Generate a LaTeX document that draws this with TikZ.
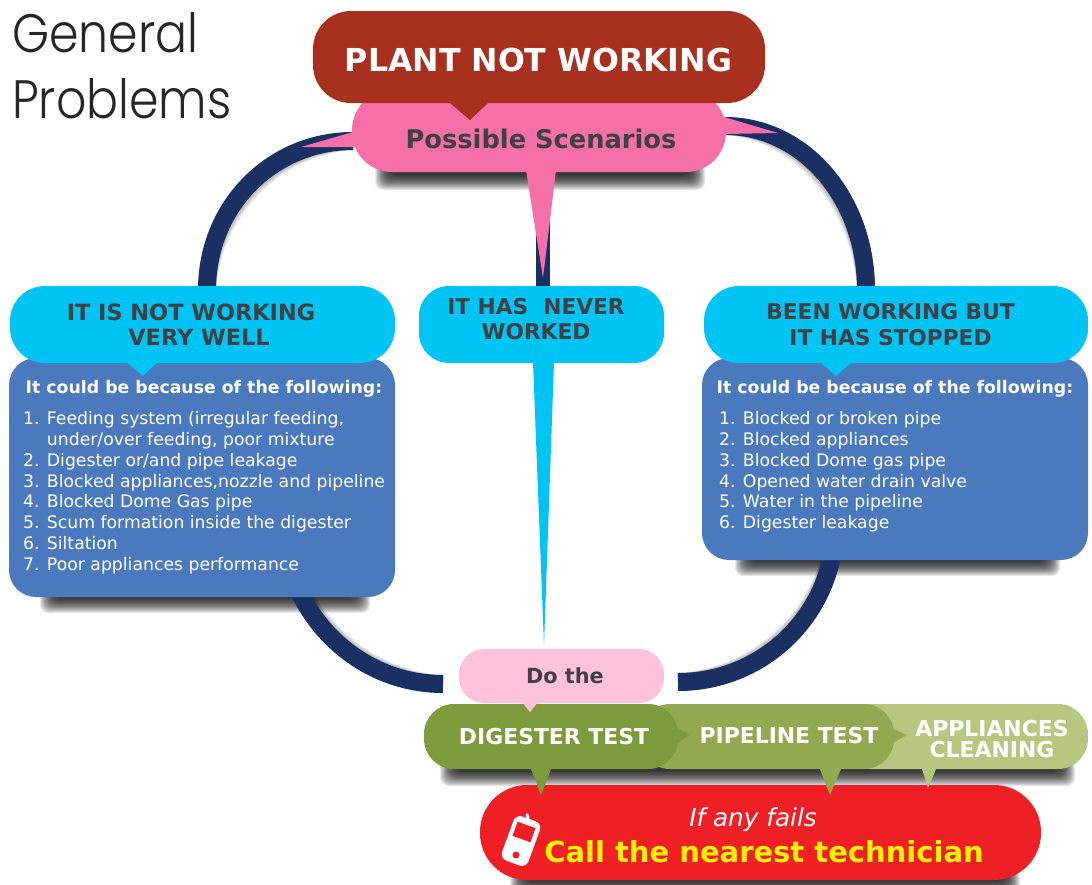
\documentclass[tikz,border=0pt]{standalone}
\usepackage{fontspec}
\setmainfont{DejaVu Sans}
\newfontfamily\titlefont{Poppins Light}
\definecolor{plantred}{HTML}{A8301F}
\definecolor{scenpink}{HTML}{F56FA8}
\definecolor{dopink}{HTML}{FFC1DC}
\definecolor{headcyan}{HTML}{00C4F4}
\definecolor{bodyblue}{HTML}{4B79BD}
\definecolor{ringnavy}{HTML}{1A3063}
\definecolor{textgrey}{HTML}{404045}
\definecolor{testdark}{HTML}{7D9A3C}
\definecolor{testmid}{HTML}{92A950}
\definecolor{testlight}{HTML}{B8C780}
\definecolor{callred}{HTML}{EE2025}
\definecolor{callyellow}{HTML}{FFF200}
\tikzset{
  bubble/.style={inner sep=0pt, outer sep=0pt, align=center, rounded corners=#1},
  head/.style={bubble=35pt, fill=headcyan, minimum height=77pt},
  headtext/.style={inner sep=0pt, align=center, text=textgrey, font=\fontsize{21.7}{25.5}\selectfont\bfseries},
  cause/.style={bubble=27pt, fill=bodyblue, minimum width=386pt},
  causetitle/.style={inner sep=0pt, text=white, font=\fontsize{17.3}{20}\selectfont\bfseries},
  causelist/.style={inner sep=0pt, anchor=north west, align=left, text=white, font=\fontsize{17.25}{20.75}\selectfont},
  testbox/.style={bubble=30pt, minimum height=65pt},
  testtext/.style={inner sep=0pt, align=center, text=white, font=\fontsize{21.9}{21}\selectfont\bfseries},
  titletext/.style={anchor=base west, inner sep=0pt, text=black!85, font=\fontsize{47.4}{60}\selectfont\titlefont},
  ring/.style={draw=ringnavy, line width=18pt},
}
% soft shade under a box: left, top, right, bottom
\newcommand{\softshade}[4]{
  \foreach \d in {0,...,15}
    \fill[black, opacity=.09, rounded corners=8pt] ({#1+\d},{#2}) rectangle ({#3-\d},{#4-\d});
}
% soft shade beside a ring: x shift, y shift, path
\newcommand{\softring}[3]{
  \foreach \d in {.2,.4,...,1.1}
    \draw[black, opacity=.06, line width=18pt, shift={({#1*\d},{#2*\d})}] #3;
}
\begin{document}
\begin{tikzpicture}[x=1pt, y=-1pt]
\useasboundingbox (0,0) rectangle (1092,884);

\node[titletext] (title1) at (12,52){\scalebox{1}[1.14]{General}};
\node[titletext] (title2) at (12,118){\scalebox{1}[1.14]{Problems}};

\node[bubble=40pt, minimum width=374pt, minimum height=82pt] (scen) at (539,131){};
\node[head, fill=none, minimum width=385pt] (notwell) at (202.5,324.5){};
\node[head, fill=none, minimum width=245pt] (never) at (541.5,324.5){};
\node[head, fill=none, minimum width=384pt] (stopped) at (896,324.5){};
\node[cause, fill=none, minimum height=239pt] (causeL) at (202,477.5){};
\node[cause, fill=none, minimum height=202pt] (causeR) at (895,459){};
\node[bubble=25pt, minimum width=205pt, minimum height=54pt] (dothe) at (561.5,676){};

% shades
\softshade{375}{160}{705}{190}
\softshade{40}{585}{370}{613}
\softshade{735}{550}{1060}{576}
\softshade{440}{760}{1075}{786}
\softshade{510}{870}{1020}{896}
\softring{5}{5}{([shift={(1,10)}]scen.west) .. controls (272,141) and (207,206) .. ([shift={(4.5,4)}]notwell.north)}
\softring{-5}{5}{([shift={(186,-5)}]scen.center) .. controls (803,126) and (866,198) .. ([shift={(-30,4)}]stopped.north)}
\softring{3}{-5}{([shift={(82,45)}]causeL.center) .. controls (284,612) and (356,684) .. ([shift={(-16,8)}]dothe.west)}
\softring{-3}{-5}{([shift={(-60,66)}]causeR.center) .. controls (835,612) and (765,682) .. ([shift={(14,6)}]dothe.east)}

% rings
\draw[ring] ([shift={(1,10)}]scen.west) .. controls (272,141) and (207,206) .. ([shift={(4.5,4)}]notwell.north);
\draw[ring] ([shift={(186,-5)}]scen.center) .. controls (803,126) and (866,198) .. ([shift={(-30,4)}]stopped.north);
\draw[ring] ([shift={(82,45)}]causeL.center) .. controls (284,612) and (356,684) .. ([shift={(-16,8)}]dothe.west);
\draw[ring] ([shift={(-60,66)}]causeR.center) .. controls (835,612) and (765,682) .. ([shift={(14,6)}]dothe.east);
\draw[ringnavy, line width=14pt] ([shift={(4,0)}]scen.south) -- ([shift={(1.5,4)}]never.north);

% possible scenarios
\fill[scenpink] (353,132) -- (301,147) -- (356,147) -- cycle;
\fill[scenpink] (724,117) -- (778,133) -- (725,134) -- cycle;
\fill[scenpink] (526,170) -- (543,278) -- (556,170) -- cycle;
\node[bubble=40pt, fill=scenpink, minimum width=374pt, minimum height=82pt] (scen) at (539,131){};
\node[inner sep=0pt, text=textgrey, font=\fontsize{25.7}{30}\selectfont\bfseries] (scentext) at (541,139){Possible Scenarios};

% plant not working
\node[bubble=38pt, fill=plantred, minimum width=452pt, minimum height=92pt] (plant) at (539,57){};
\fill[plantred] (450,103) -- (470,120) -- (488,103) -- cycle;
\node[inner sep=0pt, text=white, font=\fontsize{31.6}{36}\selectfont\bfseries] (planttext) at (538.5,60){PLANT NOT WORKING};

% left column
\node[cause, minimum height=239pt] (causeL) at (202,477.5){};
\fill[headcyan] (126,362) -- (143,376) -- (158,362) -- cycle;
\node[head, minimum width=385pt] (notwell) at (202.5,324.5){};
\node[headtext, font=\fontsize{22.4}{25.5}\selectfont\bfseries] (notwelltext) at (191,324.5){IT IS NOT WORKING\\\hspace*{16pt}VERY WELL};
\node[causetitle] (causeLtitle) at (204,389){It could be because of the following:};
\node[causelist] (causeLlist) at (23,411.5){%
1. Feeding system (irregular feeding,\\
\phantom{1. }under/over feeding, poor mixture\\
2. Digester or/and pipe leakage\\
3. Blocked appliances,nozzle and pipeline\\
4. Blocked Dome Gas pipe\\
5. Scum formation inside the digester\\
6. Siltation\\
7. Poor appliances performance};

% middle column
\fill[headcyan] (533,362) -- (544,645) -- (554,362) -- cycle;
\node[head, bubble=30pt, minimum width=245pt] (never) at (541.5,324.5){};
\node[headtext] (nevertext) at (536,319){IT HAS\ \ NEVER\\WORKED};

% right column
\node[cause, minimum height=202pt] (causeR) at (895,459){};
\fill[headcyan] (820,362) -- (836,376) -- (852,362) -- cycle;
\node[head, minimum width=384pt] (stopped) at (896,324.5){};
\node[headtext] (stoppedtext) at (890.5,324.5){BEEN WORKING BUT\\IT HAS STOPPED};
\node[causetitle] (causeRtitle) at (895,389){It could be because of the following:};
\node[causelist] (causeRlist) at (719,411.5){%
1. Blocked or broken pipe\\
2. Blocked appliances\\
3. Blocked Dome gas pipe\\
4. Opened water drain valve\\
5. Water in the pipeline\\
6. Digester leakage};

% tests
\node[testbox, fill=testlight, minimum width=248pt] (appliances) at (964,736.5){};
\fill[testmid] (880,723) -- (907,735) -- (880,750) -- cycle;
\node[testbox, fill=testmid, minimum width=254pt] (pipeline) at (767,736.5){};
\fill[testdark] (670,723) -- (689,735) -- (670,750) -- cycle;
\node[testbox, fill=testdark, minimum width=254pt] (digester) at (551,736.5){};
\node[testtext] (digestertext) at (554,737){DIGESTER TEST};
\node[testtext] (pipelinetext) at (789,736){PIPELINE TEST};
\node[testtext] (appliancestext) at (992,739){APPLIANCES\\CLEANING};

% do the
\node[bubble=25pt, fill=dopink, minimum width=205pt, minimum height=54pt] (dothe) at (561.5,676){};
\node[inner sep=0pt, text=textgrey, font=\fontsize{20.8}{24}\selectfont\bfseries] (dothetext) at (565,676){Do the};
\fill[dopink] (522,702) -- (530,712) -- (538,702) -- cycle;

% call
\node[bubble=47pt, fill=callred, minimum width=561pt, minimum height=95pt] (call) at (760.5,832.5){};
\fill[testdark] (531,769) -- (541,795) -- (551,769) -- cycle;
\fill[testmid] (820,769) -- (830,795) -- (841,769) -- cycle;
\fill[testlight] (922,769) -- (928,788) -- (936,769) -- cycle;
\node[inner sep=0pt, text=white, font=\fontsize{24.7}{26}\selectfont\itshape] (iffails) at (753,820){If any fails};
\node[inner sep=0pt, text=callyellow, font=\fontsize{29}{34}\selectfont\bfseries] (calltext) at (764,852){Call the nearest technician};

% phone
\node[rotate=-20, fill=white, rounded corners=7pt, inner sep=0pt, minimum width=28pt, minimum height=47pt] (phone) at (521,841){};
\draw[white, line width=3pt, line cap=round] ([shift={(-2,-4)}]phone.north) -- ([shift={(-1,-1)}]phone.north);
\node[rotate=-20, fill=callred, inner sep=0pt, minimum width=19pt, minimum height=15pt] (phonescreen) at (524,832){};
\node[circle, fill=callred, inner sep=0pt, minimum size=7pt] (phonekey) at (516,855){};
\end{tikzpicture}
\end{document}
